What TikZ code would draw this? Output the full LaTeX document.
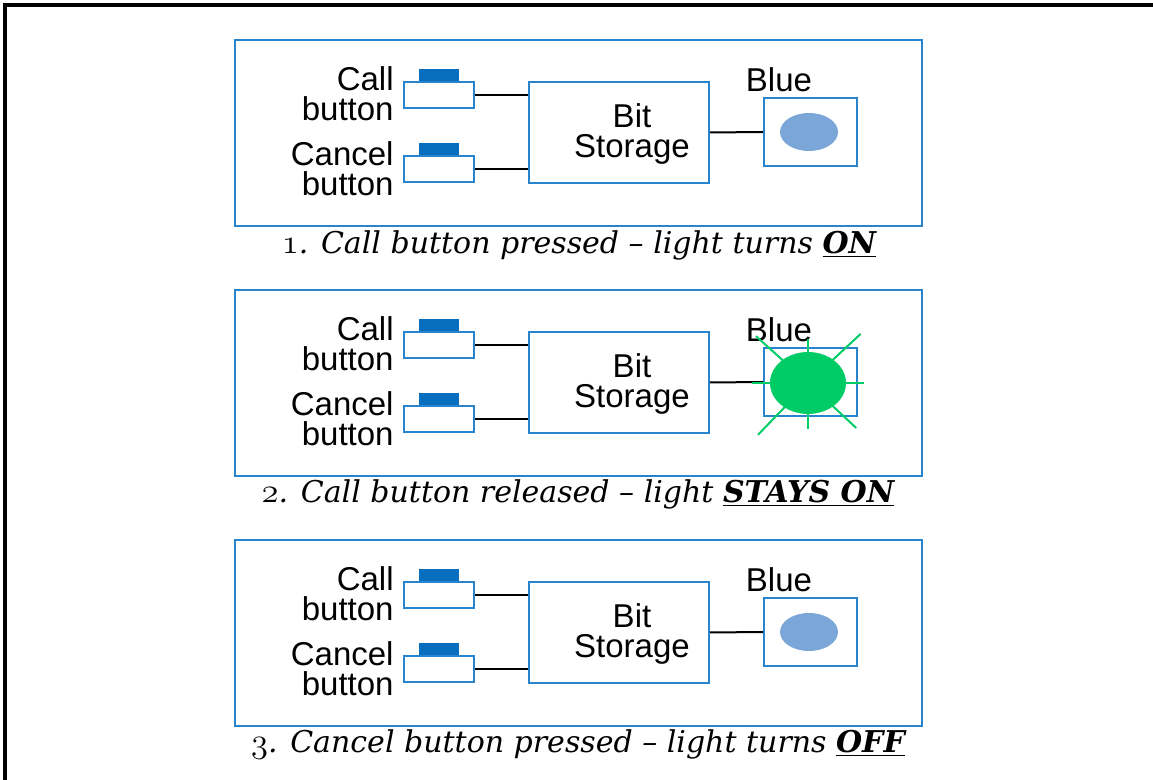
\documentclass[tikz,border=0pt]{standalone}
\usepackage{fontspec}
\setsansfont{Liberation Sans}
\newfontfamily\capfont{DejaVu Serif}
\usetikzlibrary{positioning}
\definecolor{panelblue}{RGB}{40,132,204}
\definecolor{capblue}{RGB}{8,110,190}
\definecolor{offblue}{RGB}{122,166,216}
\definecolor{ongreen}{RGB}{0,204,102}
\newcommand{\osnum}[1]{{\usefont{OML}{cmm}{m}{it}\fontsize{19}{19}\selectfont#1}}
\tikzset{
	panel/.style={draw=panelblue, line width=1pt},
	btnbody/.style={draw=panelblue, line width=1pt, fill=white, minimum width=35pt, minimum height=13pt, inner sep=0pt},
	btncap/.style={fill=capblue, minimum width=20pt, minimum height=6pt, inner sep=0pt},
	storebox/.style={draw=panelblue, line width=1pt, minimum width=90pt, minimum height=50.5pt, inner sep=0pt},
	lightbox/.style={draw=panelblue, line width=1pt, minimum width=46.5pt, minimum height=34pt, inner sep=0pt},
	txt/.style={font=\sffamily\fontsize{16.5}{15}\selectfont, inner sep=0pt},
	caption/.style={font=\capfont\fontsize{15}{17}\selectfont\itshape, inner sep=0pt},
	wire/.style={draw=black, line width=1pt},
	ray/.style={draw=ongreen, line width=1pt},
}

\begin{document}
\begin{tikzpicture}[x=0.5pt, y=-0.5pt]
	\useasboundingbox (0,0) rectangle (1153,780);
	\draw[line width=1.75pt] (5,780) -- (5,5) -- (1153,5);
	
	\foreach \i in {0,1,2}{
		\begin{scope}[yshift=-125pt*\i]
			\draw[panel] (235,40) rectangle (922,226);
			% buttons
			\node[btnbody] (call\i) at (439,95) {};
			\node[btncap, anchor=south] (callcap\i) at (call\i.north) {};
			\node[txt, align=right, anchor=east] (calltxt\i) at (394,94) {Call\\button};
			\node[btnbody] (cancel\i) at (439,169) {};
			\node[btncap, anchor=south] (cancelcap\i) at (cancel\i.north) {};
			\node[txt, align=right, anchor=east] (canceltxt\i) at (394,169) {Cancel\\button};
			% storage and light
			\node[storebox] (store\i) at (619,132.5) {};
			\node[txt, align=center] (storetxt\i) at (632,134) {Bit\\Storage};
			\node[lightbox] (light\i) at (810.5,132) {};
			\node[txt] (lighttxt\i) at (779,80) {Blue};
			\draw[wire] (call\i.east) -- (call\i.east -| store\i.west);
			\draw[wire] (cancel\i.east) -- (cancel\i.east -| store\i.west);
			\draw[wire] (store\i.east) -- (light\i.west);
			\ifnum\i=1
				\foreach \a/\r in {0/28,43/36,90/22,138/35,180/28,226/36,270/23,317/33}
					\draw[ray] (808,133) -- ++(\a:\r pt);
				\fill[ongreen] (808,133) ellipse [x radius=19pt, y radius=15.5pt];
			\else
				\fill[offblue] (809,132) ellipse [x radius=14.5pt, y radius=9.5pt];
			\fi
		\end{scope}
	}
	
	\node[caption] (cap0) at (579,245) {\osnum{1}. Call button pressed – light turns \underline{\textbf{ON}}};
	\node[caption] (cap1) at (578,494) {\osnum{2}. Call button released – light \underline{\textbf{STAYS ON}}};
	\node[caption] (cap2) at (578,744) {\osnum{3}. Cancel button pressed – light turns \underline{\textbf{OFF}}};
\end{tikzpicture}
\end{document}
